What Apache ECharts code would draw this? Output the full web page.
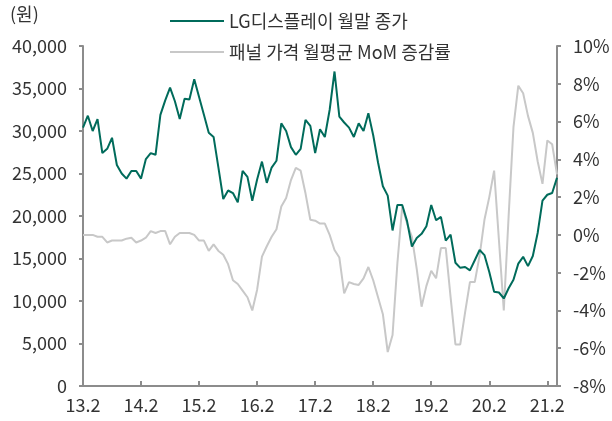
<!DOCTYPE html>
<html>
<head>
<meta charset="utf-8">
<script src="https://cdn.jsdelivr.net/npm/echarts@6/dist/echarts.min.js"></script>
<style>
  html, body { margin: 0; padding: 0; background: #fff; }
  #chart { width: 612px; height: 421px; }
</style>
</head>
<body>
<div id="chart"></div>
<script>
// month labels 13.2 ... 21.4
const months = [];
for (let y = 13; y <= 21; y++) {
  for (let m = 1; m <= 12; m++) {
    if ((y === 13 && m < 2) || (y === 21 && m > 4)) continue;
    months.push(y + '.' + m);
  }
}

const lgdPrice = [
  30400, 31800, 30000, 31400, 27400, 27900, 29200, 26000, 25000, 24400,
  25300, 25300, 24400, 26700, 27400, 27200, 31900, 33600, 35100, 33500,
  31400, 33800, 33700, 36100, 34000, 31900, 29800, 29300, 25700, 22000,
  23000, 22700, 21600, 25300, 24600, 21800, 24300, 26400, 23900, 25700,
  26500, 30900, 30000, 28100, 27200, 27900, 31300, 30600, 27400, 30200,
  29300, 32500, 37000, 31700, 31000, 30400, 29300, 30900, 30000, 32100,
  29500, 26300, 23500, 22400, 18300, 21300, 21300, 19400, 16400, 17400,
  17900, 18800, 21300, 19500, 19900, 17100, 17800, 14500, 13900, 14000,
  13600, 14800, 16000, 15400, 13400, 11100, 11000, 10300, 11500, 12500,
  14400, 15200, 14100, 15300, 18000, 21800, 22500, 22700, 24500,
];

const panelMoM = [
  0.0, 0.0, 0.0, -0.1, -0.1, -0.4, -0.3, -0.3, -0.3, -0.2,
  -0.15, -0.4, -0.3, -0.15, 0.2, 0.1, 0.2, 0.2, -0.5, -0.1,
  0.1, 0.1, 0.1, 0.0, -0.3, -0.3, -0.85, -0.5, -0.85, -1.05,
  -1.55, -2.4, -2.6, -2.95, -3.3, -4.0, -2.9, -1.15, -0.6, -0.1,
  0.3, 1.5, 1.95, 2.9, 3.55, 3.4, 2.2, 0.8, 0.75, 0.6,
  0.6, 0.0, -0.8, -1.2, -3.1, -2.5, -2.6, -2.65, -2.3, -1.7,
  -2.4, -3.3, -4.2, -6.2, -5.3, -1.5, 1.5, 0.6, -0.1, -1.8,
  -3.8, -2.7, -1.9, -2.3, -0.7, -0.7, -3.3, -5.8, -5.8, -4.1,
  -2.5, -2.5, -1.1, 0.8, 2.0, 3.4, -0.3, -4.0, 1.0, 5.7,
  7.9, 7.5, 6.3, 5.4, 3.9, 2.7, 5.0, 4.8, 3.2,
];

const names = ['LG디스플레이 월말 종가', '패널 가격 월평균 MoM 증감률'];

const font = '"Noto Sans CJK KR", "Noto Sans", sans-serif';
const axisColor = '#8c8c8c';
const textColor = '#333';
const showYear = (i) => i % 12 === 0;

const chart = echarts.init(document.getElementById('chart'));
chart.setOption({
  animation: false,
  textStyle: { fontFamily: font },
  legend: {
    orient: 'vertical',
    left: 164,
    top: 7,
    itemWidth: 54,
    itemHeight: 14,
    itemGap: 13,
    data: names,
    itemStyle: { opacity: 0 },
    textStyle: { fontFamily: font, fontSize: 18, color: textColor },
  },
  graphic: [
    {
      type: 'text',
      left: 10,
      top: 5,
      style: { text: '(원)', fontFamily: font, fontSize: 18, fill: textColor },
    },
  ],
  grid: {
    left: 83,
    right: 55,
    top: 46,
    bottom: 35,
    outerBoundsMode: 'none',
  },
  xAxis: {
    type: 'category',
    boundaryGap: false,
    data: months,
    axisLine: { lineStyle: { color: axisColor, width: 2 } },
    axisTick: { inside: true, length: 5, interval: showYear, lineStyle: { color: axisColor, width: 2 } },
    axisLabel: {
      interval: showYear,
      margin: 10,
      fontSize: 18,
      color: textColor,
      fontFamily: font,
    },
    splitLine: { show: false },
  },
  yAxis: [
    {
      type: 'value',
      min: 0,
      max: 40000,
      interval: 5000,
      axisLine: { show: true, lineStyle: { color: axisColor, width: 2 } },
      axisTick: { show: true, length: 4, lineStyle: { color: axisColor, width: 2 } },
      axisLabel: {
        margin: 16,
        fontSize: 18,
        color: textColor,
        fontFamily: font,
        formatter: (v) => v.toLocaleString('en-US'),
      },
      splitLine: { show: false },
    },
    {
      type: 'value',
      min: -8,
      max: 10,
      interval: 2,
      position: 'right',
      axisLine: { show: true, lineStyle: { color: axisColor, width: 2 } },
      axisTick: { show: true, length: 4, lineStyle: { color: axisColor, width: 2 } },
      axisLabel: {
        margin: 16,
        fontSize: 18,
        color: textColor,
        fontFamily: font,
        formatter: '{value}%',
      },
      splitLine: { show: false },
    },
  ],
  series: [
    {
      name: names[1],
      type: 'line',
      yAxisIndex: 1,
      symbol: 'none',
      lineStyle: { color: '#c8c8c8', width: 2 },
      itemStyle: { color: '#c8c8c8' },
      data: panelMoM,
    },
    {
      name: names[0],
      type: 'line',
      yAxisIndex: 0,
      symbol: 'none',
      lineStyle: { color: '#006b5b', width: 2 },
      itemStyle: { color: '#006b5b' },
      data: lgdPrice,
    },
  ],
});
</script>
</body>
</html>
